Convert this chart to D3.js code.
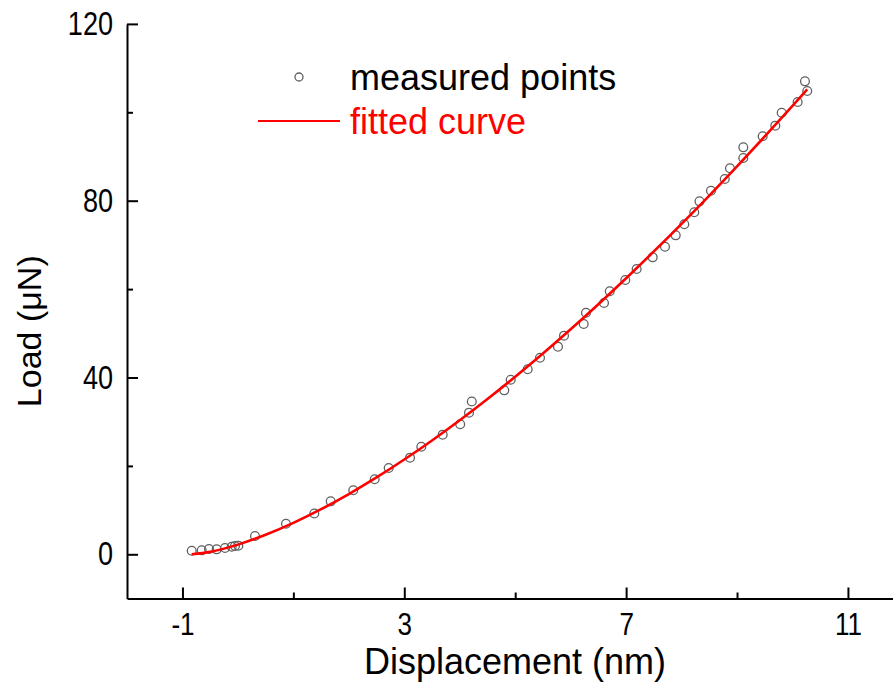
<!DOCTYPE html>
<html>
<head>
<meta charset="utf-8">
<script src="https://cdn.jsdelivr.net/npm/d3@7"></script>
<style>
  html, body { margin: 0; padding: 0; background: #fff; }
  svg { display: block; font-family: "Liberation Sans", Arial, sans-serif; }
</style>
</head>
<body>
<svg id="chart" width="893" height="682"></svg>
<script>
// Indentation test: displacement (nm) vs load (µN)
const measuredDisp = [
  -0.833, -0.653, -0.521, -0.383, -0.233, -0.112, -0.053, 0.007, 0.308, 0.867,
  1.377, 1.673, 2.080, 2.466, 2.719, 3.103, 3.307, 3.692, 4.008, 4.167,
  4.217, 4.803, 4.919, 5.225, 5.447, 5.771, 5.880, 6.235, 6.276, 6.601,
  6.705, 6.985, 7.190, 7.479, 7.701, 7.894, 8.049, 8.229, 8.323, 8.530,
  8.779, 8.873, 9.113, 9.113, 9.462, 9.690, 9.805, 10.093, 10.266, 10.225
];
const measuredLoad = [
  0.81, 0.90, 1.20, 1.13, 1.43, 1.72, 1.88, 1.95, 4.14, 6.92,
  9.23, 11.99, 14.48, 16.97, 19.52, 21.86, 24.34, 27.06, 29.43, 32.04,
  34.57, 37.10, 39.50, 41.86, 44.48, 46.97, 49.46, 52.10, 54.66, 56.86,
  59.52, 62.06, 64.55, 67.19, 69.59, 72.17, 74.66, 77.38, 79.86, 82.26,
  84.91, 87.33, 89.66, 92.08, 94.57, 96.97, 99.91, 102.33, 104.82, 107.01
];

// Fitted curve, sampled along displacement
const fitDisp = [-0.833, -0.5, 0, 0.5, 1, 1.5, 2, 2.5, 3, 3.5, 4, 4.5, 5, 5.5,
  6, 6.5, 7, 7.5, 8, 8.5, 9, 9.5, 10, 10.266];
const fitLoad = [0, 0.55, 2.19, 4.42, 7.11, 10.20, 13.64, 17.39, 21.44, 25.76,
  30.33, 35.14, 40.18, 45.44, 50.92, 56.59, 62.46, 68.52, 74.76, 81.17,
  87.77, 94.53, 101.45, 105.2];

const xMajorTicks = [-1, 3, 7, 11];
const xMinorTicks = [1, 5, 9];
const yMajorTicks = [0, 40, 80, 120];
const yMinorTicks = [20, 60, 100];

const legendLabels = ["measured points", "fitted curve"];
const xTitle = "Displacement (nm)";
const yTitle = "Load (\u03BCN)";

const svg = d3.select("#chart");

const x = d3.scaleLinear().domain([-2, 12]).range([127, 903.4]);
const y = d3.scaleLinear().domain([-10, 120]).range([598.5, 23.9]);

const axisColor = "#000";
const plainFormat = d => String(d);

// Squeeze a label horizontally, like a narrow face
function condense(sel, factor) {
  sel.each(function () {
    const len = this.getComputedTextLength();
    d3.select(this)
      .attr("textLength", len * factor)
      .attr("lengthAdjust", "spacingAndGlyphs");
  });
}

// Minor ticks (no labels)
svg.append("g")
  .attr("transform", `translate(0,${y(-10)})`)
  .call(d3.axisBottom(x).tickValues(xMinorTicks).tickSize(-6).tickSizeOuter(0).tickFormat(""))
  .call(g => g.select(".domain").remove())
  .call(g => g.selectAll("line").attr("stroke", axisColor).attr("stroke-width", 2));
svg.append("g")
  .attr("transform", `translate(${x(-2)},0)`)
  .call(d3.axisLeft(y).tickValues(yMinorTicks).tickSize(-6).tickSizeOuter(0).tickFormat(""))
  .call(g => g.select(".domain").remove())
  .call(g => g.selectAll("line").attr("stroke", axisColor).attr("stroke-width", 2));

// Major axes
const xAxis = svg.append("g")
  .attr("transform", `translate(0,${y(-10)})`)
  .call(d3.axisBottom(x).tickValues(xMajorTicks).tickSize(-11).tickSizeOuter(0).tickPadding(14)
    .tickFormat(plainFormat));
xAxis.select(".domain").attr("stroke", axisColor).attr("stroke-width", 2);
xAxis.selectAll("line").attr("stroke", axisColor).attr("stroke-width", 2);
xAxis.selectAll("text").attr("font-size", 31).attr("fill", "#000").call(condense, 0.84);

const yAxis = svg.append("g")
  .attr("transform", `translate(${x(-2)},0)`)
  .call(d3.axisLeft(y).tickValues(yMajorTicks).tickSize(-11).tickSizeOuter(0).tickPadding(14)
    .tickFormat(plainFormat));
yAxis.select(".domain").attr("stroke", axisColor).attr("stroke-width", 2);
yAxis.selectAll("line").attr("stroke", axisColor).attr("stroke-width", 2);
yAxis.selectAll("text").attr("font-size", 33).attr("fill", "#000").call(condense, 0.82);

// Axis titles
svg.append("text")
  .attr("x", 515)
  .attr("y", 674)
  .attr("text-anchor", "middle")
  .attr("font-size", 36)
  .text(xTitle);

svg.append("text")
  .attr("transform", `translate(41,${(y(120) + y(-10)) / 2 + 20}) rotate(-90)`)
  .attr("text-anchor", "middle")
  .attr("font-size", 34)
  .text(yTitle);

// Measured points
svg.append("g")
  .selectAll("circle")
  .data(d3.range(measuredDisp.length))
  .join("circle")
  .attr("cx", i => x(measuredDisp[i]))
  .attr("cy", i => y(measuredLoad[i]))
  .attr("r", 4.4)
  .attr("fill", "none")
  .attr("stroke", "#606060")
  .attr("stroke-width", 1.3);

// Fitted curve
const line = d3.line()
  .x(i => x(fitDisp[i]))
  .y(i => y(fitLoad[i]))
  .curve(d3.curveMonotoneX);
svg.append("path")
  .datum(d3.range(fitDisp.length))
  .attr("d", line)
  .attr("fill", "none")
  .attr("stroke", "#ff0000")
  .attr("stroke-width", 2.6);

// Legend
const legend = svg.append("g");
legend.append("circle")
  .attr("cx", 299).attr("cy", 77).attr("r", 4)
  .attr("fill", "none").attr("stroke", "#606060").attr("stroke-width", 1.3);
legend.append("text")
  .attr("x", 350).attr("y", 90)
  .attr("font-size", 36).attr("fill", "#000")
  .text(legendLabels[0]);
legend.append("line")
  .attr("x1", 258).attr("x2", 340).attr("y1", 121).attr("y2", 121)
  .attr("stroke", "#ff0000").attr("stroke-width", 2);
legend.append("text")
  .attr("x", 350).attr("y", 134)
  .attr("font-size", 36).attr("fill", "#ff0000")
  .text(legendLabels[1]);
</script>
</body>
</html>
